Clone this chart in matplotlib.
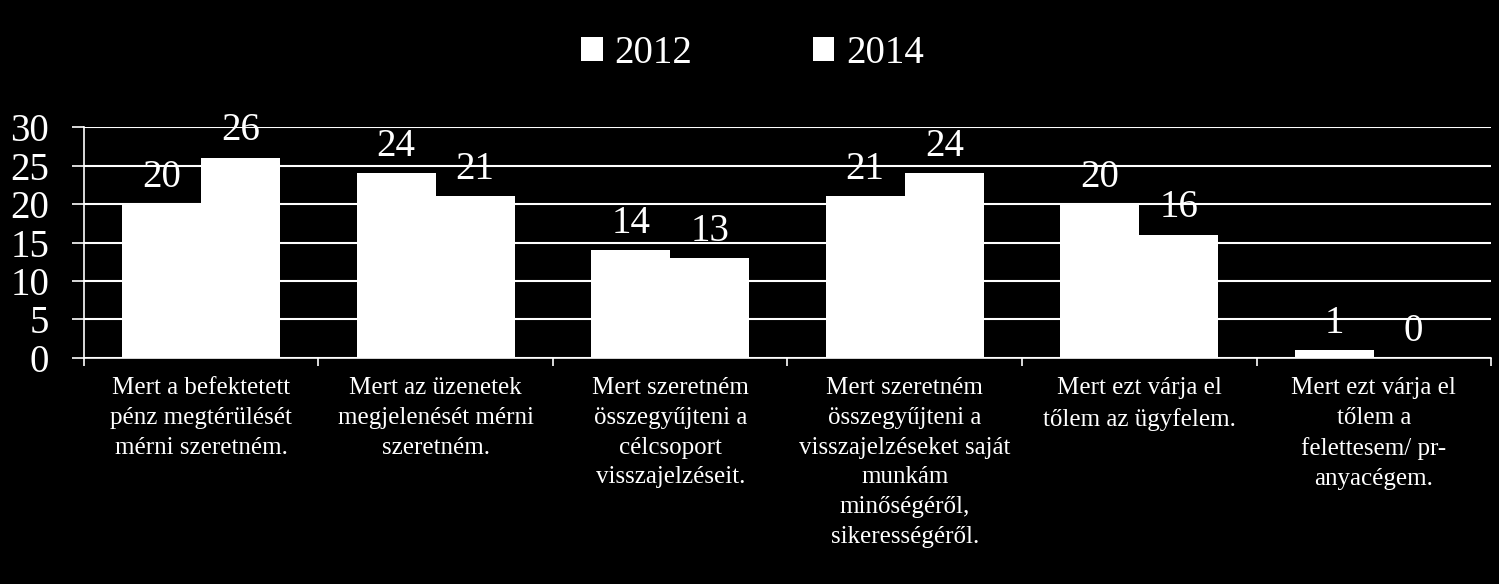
import matplotlib
matplotlib.use("Agg")
import matplotlib.pyplot as plt
import numpy as np

# data
categories = [
    "Mert a befektetett\npénz megtérülését\nmérni szeretném.",
    "Mert az üzenetek\nmegjelenését mérni\nszeretném.",
    "Mert szeretném\nösszegyűjteni a\ncélcsoport\nvisszajelzéseit.",
    "Mert szeretném\nösszegyűjteni a\nvisszajelzéseket saját\nmunkám\nminőségéről,\nsikerességéről.",
    "Mert ezt várja el\ntőlem az ügyfelem.",
    "Mert ezt várja el\ntőlem a\nfelettesem/ pr-\nanyacégem.",
]
series_names = ["2012", "2014"]
values_2012 = [20, 24, 14, 21, 20, 1]
values_2014 = [26, 21, 13, 24, 16, 0]
y_ticks = [0, 5, 10, 15, 20, 25, 30]

plt.rcParams['font.family'] = ['Liberation Serif', 'DejaVu Serif']

fig = plt.figure(figsize=(14.99, 5.84), dpi=100, facecolor='black')
ax = fig.add_axes([0.056, 0.387, 0.9387, 0.3955])
ax.set_facecolor('black')

x = np.arange(len(categories))
w = 0.337
b1 = ax.bar(x - w/2, values_2012, w, color='white', label=series_names[0], zorder=3)
b2 = ax.bar(x + w/2, values_2014, w, color='white', label=series_names[1], zorder=3)

for bars in (b1, b2):
    for r in bars:
        ax.annotate(str(int(r.get_height())), (r.get_x() + r.get_width()/2, r.get_height()),
                    xytext=(0, 6), textcoords='offset points', ha='center', va='bottom',
                    color='white', fontsize=28, zorder=4)

ax.set_xlim(-0.5, len(categories) - 0.5)
ax.set_ylim(0, 30)
ax.set_yticks(y_ticks)
ax.yaxis.grid(True, color='white', linewidth=1.5, zorder=0)

ax.set_xticks(x)
ax.set_xticklabels(categories, fontsize=18, color='white', linespacing=1.45, va='top')
ax.tick_params(axis='x', which='major', length=0, pad=14)
ax.set_xticks(np.arange(len(categories) + 1) - 0.5, minor=True)
ax.tick_params(axis='x', which='minor', length=6, color='white', width=1.2, direction='out')
ax.tick_params(axis='y', labelsize=28, colors='white', length=9, width=1.2, pad=16)

for s in ['top', 'right']:
    ax.spines[s].set_visible(False)
for s in ['left', 'bottom']:
    ax.spines[s].set_color('white')
    ax.spines[s].set_linewidth(1.2)

leg = fig.legend(handles=[b1, b2], labels=series_names, loc='center', bbox_to_anchor=(0.502, 0.909),
                 ncol=2, frameon=False, fontsize=28, labelcolor='white', handlelength=0.55,
                 handleheight=0.55, handletextpad=0.3, columnspacing=3.1)

fig.savefig('out.png', dpi=100, facecolor='black')
